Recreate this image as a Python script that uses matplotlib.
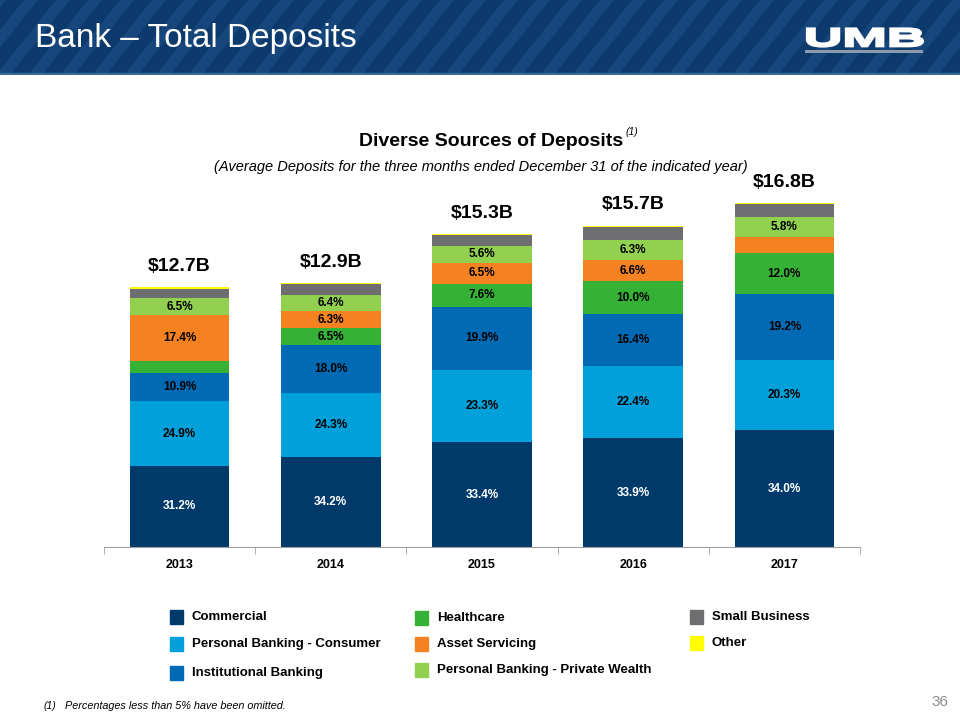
import numpy as np
import matplotlib
matplotlib.use('Agg')
import matplotlib.pyplot as plt
from matplotlib.patches import Polygon, Rectangle, PathPatch
from matplotlib.textpath import TextPath
from matplotlib.font_manager import FontProperties
from matplotlib.transforms import Affine2D

plt.rcParams['font.family'] = ['Liberation Sans', 'DejaVu Sans']

anos = ['2013', '2014', '2015', '2016', '2017']
totais = [12.7, 12.9, 15.3, 15.7, 16.8]
segmentos = ['Commercial', 'Personal Banking - Consumer', 'Institutional Banking',
             'Healthcare', 'Asset Servicing', 'Personal Banking - Private Wealth',
             'Small Business', 'Other']

# percentuais por segmento (os < 5% foram estimados a partir da figura)
commercial = [31.2, 34.2, 33.4, 33.9, 34.0]
consumer = [24.9, 24.3, 23.3, 22.4, 20.3]
institutional = [10.9, 18.0, 19.9, 16.4, 19.2]
healthcare = [4.8, 6.5, 7.6, 10.0, 12.0]
asset = [17.4, 6.3, 6.5, 6.6, 4.7]
private_wealth = [6.5, 6.4, 5.6, 6.3, 5.8]
small_business = [3.8, 4.0, 3.4, 4.0, 3.7]
other = [0.5, 0.3, 0.3, 0.4, 0.3]

cores = ['#003A6B', '#00A0DB', '#006BB4', '#35B236', '#F58220', '#92D050', '#6E6E70', '#FFFF00']
pcts = [commercial, consumer, institutional, healthcare, asset, private_wealth, small_business, other]

fig = plt.figure(figsize=(9.6, 7.2), dpi=100)

# cabeçalho com listras diagonais
hdr = fig.add_axes([0, 1 - 75 / 720, 1, 75 / 720])
hdr.set_xlim(0, 960)
hdr.set_ylim(75, 0)
hdr.axis('off')
hdr.add_patch(Rectangle((0, 0), 960, 75, color='#0C3A6C'))
for x0 in range(-100, 1000, 32):
    hdr.add_patch(Polygon([(x0, 75), (x0 + 14, 75), (x0 + 14 + 60, 0), (x0 + 60, 0)],
                          closed=True, color='#16467C', lw=0))
hdr.add_patch(Rectangle((0, 73), 960, 2, color='#3A6A98'))
hdr.text(35, 39, 'Bank – Total Deposits', color='white', fontsize=24, va='center', ha='left')

# logo UMB esticado para caber na caixa
tp = TextPath((0, 0), 'UMB', size=10, prop=FontProperties(family='Liberation Sans', weight='bold'))
bb = tp.get_extents()
tr = (Affine2D().translate(-bb.x0, -bb.y0)
      .scale(116 / bb.width, -18 / bb.height).translate(807, 46.5))
hdr.add_patch(PathPatch(tr.transform_path(tp), facecolor='white', edgecolor='white', lw=1.6))
hdr.add_patch(Rectangle((805, 50), 118, 2.5, color='#8C9AAB', lw=0))

# gráfico
ax = fig.add_axes([104 / 960, (720 - 547) / 720, 756 / 960, 367 / 720])
x = np.arange(len(anos))
ax.set_xlim(-0.5, 4.5)
ax.set_ylim(0, 367 / 20.45)

base = np.zeros(len(anos))
for s, p, c in zip(segmentos, pcts, cores):
    vals = np.array(p) / 100 * np.array(totais)
    ax.bar(x, vals, bottom=base, width=0.66, color=c, label=s, edgecolor='none')
    for i in range(len(anos)):
        if p[i] >= 5:
            ax.text(x[i], base[i] + vals[i] / 2, f'{p[i]:.1f}%', ha='center', va='center',
                    fontsize=8.5, fontweight='bold',
                    color='white' if s == 'Commercial' else 'black')
    base = base + vals

for i, t in enumerate(totais):
    ax.annotate(f'${t}B', (x[i], base[i]), xytext=(0, 9), textcoords='offset points',
                ha='center', va='bottom', fontsize=14, fontweight='bold', annotation_clip=False)

for sp in ['top', 'right', 'left']:
    ax.spines[sp].set_visible(False)
ax.spines['bottom'].set_color('#A0A0A0')
ax.set_yticks([])
ax.set_xticks(x)
ax.set_xticklabels(anos, fontsize=9, fontweight='bold')
ax.tick_params(axis='x', length=0, pad=9)
ax.set_xticks(np.arange(-0.5, 5, 1), minor=True)
ax.tick_params(axis='x', which='minor', length=5, color='#A0A0A0')

# títulos
fig.text(623 / 960, 1 - 141 / 720, 'Diverse Sources of Deposits', ha='right', va='center',
         fontsize=14, fontweight='bold')
fig.text(626 / 960, 1 - 132 / 720, '(1)', ha='left', va='center', fontsize=7.5, style='italic')
fig.text(481 / 960, 1 - 167 / 720,
         '(Average Deposits for the three months ended December 31 of the indicated year)',
         ha='center', va='center', fontsize=10.5, style='italic')

# legenda manual
leg = fig.add_axes([0, 0, 1, 1], zorder=-1)
leg.set_xlim(0, 960)
leg.set_ylim(720, 0)
leg.axis('off')
posicoes = [(170, 617), (170, 644), (170, 673), (415, 618), (415, 644), (415, 670), (690, 617), (690, 643)]
for s, c, (lx, ly) in zip(segmentos, cores, posicoes):
    leg.add_patch(Rectangle((lx, ly - 7), 13, 14, color=c))
    leg.text(lx + 22, ly, s, va='center', ha='left', fontsize=9.5, fontweight='bold')

leg.text(44, 706, '(1)', fontsize=7.5, style='italic', va='center')
leg.text(65, 706, 'Percentages less than 5% have been omitted.', fontsize=7.8, style='italic', va='center')
leg.text(948, 702, '36', fontsize=11, color='#8C8C8C', va='center', ha='right')

fig.savefig('out.png', dpi=100)
